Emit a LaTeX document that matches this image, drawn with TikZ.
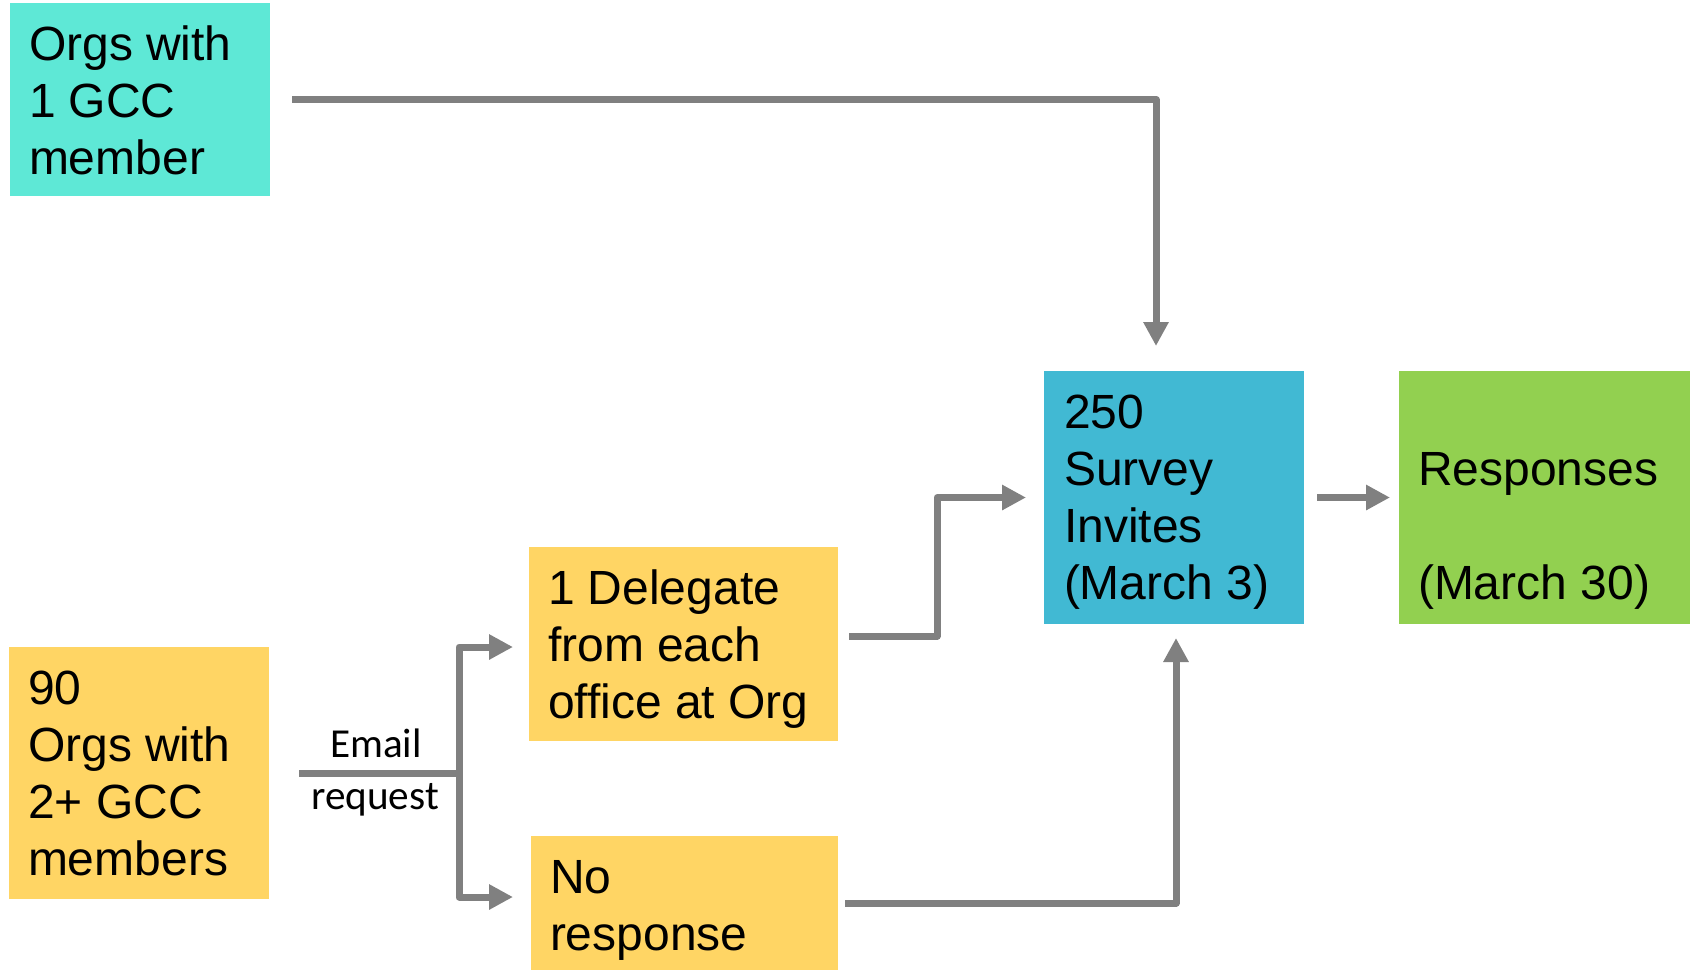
\documentclass[tikz,border=0pt]{standalone}
\usepackage{fontspec}
\setmainfont{Liberation Sans}
\newfontfamily\calibrifont{Carlito}
\usetikzlibrary{arrows.meta}
\definecolor{tealbox}{RGB}{94,232,214}
\definecolor{yellowbox}{RGB}{255,213,100}
\definecolor{bluebox}{RGB}{65,185,211}
\definecolor{greenbox}{RGB}{146,208,80}
\definecolor{linegray}{RGB}{128,128,128}
\tikzset{
  box/.style={anchor=north west, inner sep=0pt, outer sep=0pt, draw=none},
  txt/.style={anchor=base west, inner sep=0pt, outer sep=0pt},
  lab/.style={anchor=base, inner sep=0pt, font=\calibrifont\fontsize{20.6}{24}\selectfont},
  conn/.style={draw=linegray, line width=3.5pt, line join=round},
  arr/.style={conn, -{Triangle[length=12pt,width=12pt]}},
}
\newcommand{\boxtext}[2]{\parbox[t]{#1}{\raggedright\fontsize{24}{28.5}\selectfont #2}}
\begin{document}
\begin{tikzpicture}[x=0.5pt,y=-0.5pt]
\useasboundingbox (0,0) rectangle (1696,970);
% boxes
\node[box, fill=tealbox, minimum width=130pt, minimum height=96.5pt] (b1) at (10,3) {};
\node[box, fill=yellowbox, minimum width=130pt, minimum height=126pt] (b2) at (9,647) {};
\node[box, fill=yellowbox, minimum width=154.5pt, minimum height=97pt] (b3) at (529,547) {};
\node[box, fill=yellowbox, minimum width=153.5pt, minimum height=67pt] (b4) at (531,836) {};
\node[box, fill=bluebox, minimum width=130pt, minimum height=126.5pt] (b5) at (1044,371) {};
\node[box, fill=greenbox, minimum width=145.5pt, minimum height=126.5pt] (b6) at (1399,371) {};
% texts
\node[txt] (t1) at (29,60) {\boxtext{125pt}{Orgs with\\1 GCC\\member}};
\node[txt] (t2) at (28,704) {\boxtext{125pt}{90\\Orgs with\\2+ GCC\\members}};
\node[txt] (t3) at (548,604) {\boxtext{150pt}{1 Delegate\\from each\\office at Org}};
\node[txt] (t4) at (550,893) {\boxtext{150pt}{No\\response}};
\node[txt] (t5) at (1064,428) {\boxtext{125pt}{250\\Survey\\Invites\\(March 3)}};
\node[txt] (t6) at (1418,485) {\boxtext{140pt}{Responses\\\mbox{}\\(March 30)}};
% connectors
\draw[arr] ([xshift=11pt]b1.east) -| ([xshift=-9pt,yshift=12.5pt]b5.north);
\draw[conn] ([xshift=15pt]b2.east) -- ++(80pt,0) coordinate (j);
\draw[arr] (j) |- ([xshift=-8pt,yshift=-1.5pt]b3.west);
\draw[arr] (j) |- ([xshift=-9pt,yshift=3pt]b4.west);
\draw[arr] ([xshift=5.5pt,yshift=4pt]b3.east) -- ++(44pt,0) |- ([xshift=-9pt]b5.west);
\draw[arr] ([xshift=3.5pt]b4.east) -| ([xshift=1pt,yshift=-7pt]b5.south);
\draw[arr] ([xshift=6.5pt]b5.east) -- ([xshift=-4.5pt]b6.west);
% labels
\node[lab] (e1) at (376,757) {Email};
\node[lab] (e2) at (375,809) {request};
\end{tikzpicture}
\end{document}
